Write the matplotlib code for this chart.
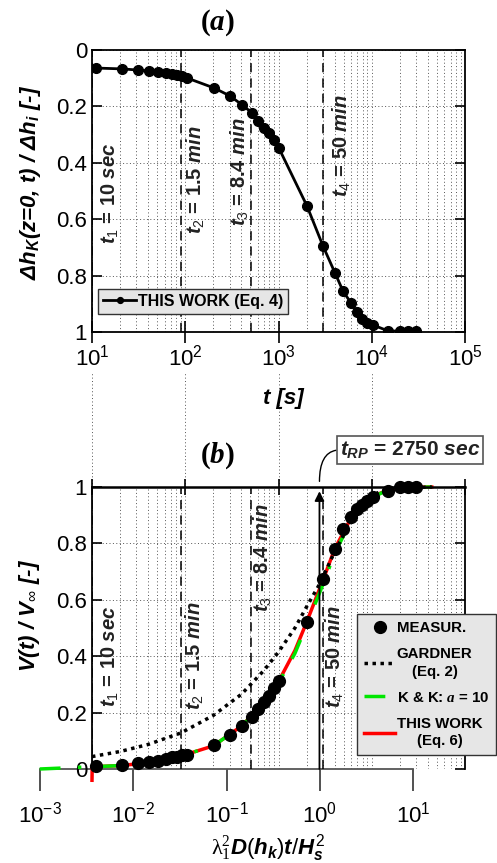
import matplotlib
matplotlib.use("Agg")
import matplotlib.pyplot as plt
from matplotlib.ticker import FuncFormatter, NullLocator, LogLocator

plt.rcParams["font.family"] = ["Liberation Sans", "DejaVu Sans"]
plt.rcParams["font.size"] = 16
plt.rcParams["mathtext.fontset"] = "custom"
plt.rcParams["mathtext.rm"] = "Liberation Sans"
plt.rcParams["mathtext.bf"] = "Liberation Sans:bold"
plt.rcParams["mathtext.it"] = "Liberation Sans:bold:italic"
plt.rcParams["mathtext.sf"] = "Liberation Serif:bold:italic"
plt.rcParams["mathtext.tt"] = "Liberation Serif"

# ---- data ----
t_rp = 2750.0
t_marks = [10, 90, 504, 3000]   # t1..t4 in s
t_meas = [11, 21, 31, 41, 51, 62, 72, 81, 92, 104, 205, 302, 409, 520, 603, 699,
          791, 895, 1010, 2020, 3000, 4040, 4920, 5990, 6950, 7860, 8890, 10300,
          14900, 20100, 24500, 29900]
dh_a = [0.064, 0.067, 0.071, 0.074, 0.078, 0.082, 0.085, 0.089, 0.092, 0.099,
        0.135, 0.163, 0.195, 0.223, 0.252, 0.277, 0.296, 0.319, 0.348, 0.553,
        0.695, 0.791, 0.855, 0.897, 0.929, 0.954, 0.968, 0.975, 0.996, 0.997,
        0.998, 0.998]
v_meas = [0.010, 0.013, 0.020, 0.024, 0.030, 0.036, 0.041, 0.044, 0.048, 0.051,
          0.084, 0.122, 0.154, 0.183, 0.211, 0.236, 0.260, 0.287, 0.313, 0.523,
          0.673, 0.780, 0.850, 0.893, 0.922, 0.936, 0.951, 0.966, 0.987, 0.999,
          1.0, 1.0]

t_gard = [10, 20, 40, 90, 200, 400, 700, 1000, 1500, 2000, 2750, 4000, 6000,
          10000, 15000, 44000]
v_gard = [0.044, 0.062, 0.087, 0.128, 0.19, 0.265, 0.35, 0.415, 0.50, 0.575,
          0.655, 0.77, 0.88, 0.97, 0.995, 1.0]
t_kk = [2.75, 10, 20, 40, 90, 200, 400, 700, 1000, 1500, 2000, 3000, 4000,
        6000, 10000, 15000, 20000, 44000]
v_kk = [0.0, 0.008, 0.012, 0.022, 0.046, 0.082, 0.152, 0.232, 0.305, 0.41,
        0.51, 0.655, 0.765, 0.88, 0.962, 0.99, 0.998, 1.0]
t_tw = [10, 10.05, 20, 40, 90, 200, 400, 700, 1000, 1500, 2000, 3000, 4000,
        6000, 10000, 15000, 20000, 44000]
v_tw = [-0.04, 0.008, 0.012, 0.022, 0.046, 0.082, 0.152, 0.235, 0.31, 0.42,
        0.52, 0.67, 0.78, 0.89, 0.965, 0.99, 0.998, 1.0]

W, H = 497, 863
def px(l, t, r, b):
    return [l / W, 1 - b / H, (r - l) / W, (b - t) / H]

fig = plt.figure(figsize=(W / 100, H / 100), dpi=100)
grid_kw = dict(color="#555555", linestyle=(0, (1, 2.5)), linewidth=0.7)
yfmt = FuncFormatter(lambda v, p: "%g" % v)

# ---------------- panel (a) ----------------
ax_a = fig.add_axes(px(92, 50, 465, 332))
ax_a.plot(t_meas, dh_a, "-o", color="k", lw=2, ms=7, label="THIS WORK (Eq. 4)")
ax_a.set_xscale("log")
ax_a.set_xlim(10, 1e5)
ax_a.set_ylim(1, 0)
ax_a.set_yticks([0, 0.2, 0.4, 0.6, 0.8, 1])
ax_a.yaxis.set_major_formatter(yfmt)
ax_a.grid(True, which="both", axis="x", **grid_kw)
ax_a.grid(True, which="major", axis="y", **grid_kw)
ax_a.tick_params(which="minor", length=0)
ax_a.tick_params(axis="x", which="major", direction="inout", length=16, width=1.2, pad=1)
ax_a.tick_params(axis="y", direction="in", length=7, width=1.2, right=True)
for s in ax_a.spines.values():
    s.set_linewidth(1.3)
for t in t_marks:
    ax_a.axvline(t, color="k", ls=(0, (6, 4)), lw=1.1)
lab_a = [(15.6, 0.51, r"$\mathit{t_1}$ = 10 $\mathit{sec}$"),
         (130, 0.46, r"$\mathit{t_2}$ = 1.5 $\mathit{min}$"),
         (386, 0.43, r"$\mathit{t_3}$ = 8.4 $\mathit{min}$"),
         (4790, 0.34, r"$\mathit{t_4}$ = 50 $\mathit{min}$")]
for x, y, s in lab_a:
    ax_a.text(x, y, s, rotation=90, ha="center", va="center", fontsize=14.5,
              fontweight="bold", color="#222222")
leg_a = ax_a.legend(loc="upper left", bbox_to_anchor=(98 / W, 1 - 289 / H),
                    bbox_transform=fig.transFigure, prop=dict(weight="bold", size=11.5),
                    fancybox=False, framealpha=1, facecolor="#e6e6e6", edgecolor="#333333",
                    handlelength=2.1, handletextpad=0.1, borderpad=0.3, borderaxespad=0,
                    markerscale=0.6)
fig.text(217 / W, 1 - 23 / H, r"($\mathsf{a}$)", family="Liberation Serif",
         fontweight="bold", fontsize=21, ha="center", va="center")
fig.text(31 / W, 1 - 182 / H,
         r"Δ$\mathit{h_K}$(z=0, t) / Δ$\mathit{h_i}$ [-]",
         rotation=90, ha="center", va="center", fontsize=16,
         fontweight="bold", fontstyle="italic")
fig.text(283 / W, 1 - 398 / H, "t [s]", fontweight="bold", fontstyle="italic",
         fontsize=16, ha="center", va="center")

# ---------------- panel (b) ----------------
ax_ext = fig.add_axes(px(92, 372, 465, 487), zorder=0)
ax_ext.set_xscale("log")
ax_ext.set_xlim(10, 1e5)
ax_ext.grid(True, which="major", axis="x", **grid_kw)
ax_ext.tick_params(which="both", length=0, labelbottom=False, labelleft=False)
ax_ext.xaxis.set_minor_locator(NullLocator())
ax_ext.set_yticks([])
ax_ext.patch.set_visible(False)
for s in ax_ext.spines.values():
    s.set_visible(False)

ax_b = fig.add_axes(px(92, 487, 465, 769), zorder=2)
ax_b.patch.set_visible(False)
l_tw, = ax_b.plot(t_tw, v_tw, "-", color="#ff0000", lw=2.5, clip_on=False,
                  label="THIS WORK\n(Eq. 6)")
l_kk, = ax_b.plot(t_kk, v_kk, color="#00e600", lw=2.5, ls=(0, (6, 5, 1, 5)),
                  clip_on=False, label=r"K & K: $\mathsf{a}$ = 10")
l_gd, = ax_b.plot(t_gard, v_gard, color="k", lw=2.5, ls=(0, (1, 1.3)),
                  clip_on=False, label="GARDNER\n(Eq. 2)")
l_ms, = ax_b.plot(t_meas, v_meas, "o", color="k", ms=8.5, zorder=5, clip_on=False,
                  label="MEASUR.")
ax_b.set_xscale("log")
ax_b.set_xlim(10, 1e5)
ax_b.set_ylim(0, 1)
ax_b.set_yticks([0, 0.2, 0.4, 0.6, 0.8, 1])
ax_b.yaxis.set_major_formatter(yfmt)
ax_b.grid(True, which="both", axis="x", **grid_kw)
ax_b.grid(True, which="major", axis="y", **grid_kw)
ax_b.tick_params(which="minor", length=0)
ax_b.tick_params(axis="x", which="major", top=True, bottom=False, labelbottom=False,
                 direction="inout", length=12, width=1.2)
ax_b.tick_params(axis="y", direction="in", length=7, width=1.2, right=True)
ax_b.spines["bottom"].set_visible(False)
for s in ax_b.spines.values():
    s.set_linewidth(1.3)
ax_b.spines["top"].set_linewidth(1.8)
for t in t_marks:
    ax_b.axvline(t, color="k", ls=(0, (6, 4)), lw=1.1)
lab_b = [(15.6, 0.40, r"$\mathit{t_1}$ = 10 $\mathit{sec}$"),
         (127, 0.40, r"$\mathit{t_2}$ = 1.5 $\mathit{min}$"),
         (682, 0.75, r"$\mathit{t_3}$ = 8.4 $\mathit{min}$"),
         (4035, 0.40, r"$\mathit{t_4}$ = 50 $\mathit{min}$")]
for x, y, s in lab_b:
    ax_b.text(x, y, s, rotation=90, ha="center", va="center", fontsize=14.5,
              fontweight="bold", color="#222222")
ax_b.annotate("", xy=(t_rp, 0.985), xytext=(t_rp, 0),
              arrowprops=dict(arrowstyle="-|>", color="k", lw=1.3, mutation_scale=14,
                              shrinkA=0, shrinkB=0))
ax_b.annotate(r"$\mathit{t_{RP}}$ = 2750 $\mathit{sec}$", xy=(t_rp, 1.02),
              xytext=(410 / W, 1 - 450 / H), textcoords="figure fraction",
              ha="center", va="center", fontsize=15, fontweight="bold", color="#222222",
              bbox=dict(boxstyle="square,pad=0.15", fc="white", ec="#555555", lw=1.2),
              arrowprops=dict(arrowstyle="-", color="k", lw=1,
                              connectionstyle="angle3,angleA=180,angleB=90",
                              relpos=(0, 0.5), shrinkA=0, shrinkB=0),
              annotation_clip=False)
leg_b = fig.legend([l_ms, l_gd, l_kk, l_tw], [l.get_label() for l in [l_ms, l_gd, l_kk, l_tw]],
                   loc="upper left", bbox_to_anchor=(357 / W, 1 - 614 / H),
                   prop=dict(weight="bold", size=10.8), fancybox=False, framealpha=1,
                   facecolor="#e6e6e6", edgecolor="#333333", handlelength=2.1,
                   handletextpad=0.1, borderpad=0.45, borderaxespad=0, labelspacing=0.8)
for txt in leg_b.get_texts():
    txt.set_multialignment("center")
    txt.set_linespacing(1.35)

ax_low = fig.add_axes(px(40, 769, 413, 769.2), zorder=1)
ax_low.set_xscale("log")
ax_low.set_xlim(1e-3, 1e1)
ax_low.xaxis.set_major_locator(LogLocator(base=10, numticks=10))
ax_low.xaxis.set_minor_locator(NullLocator())
ax_low.set_yticks([])
ax_low.patch.set_visible(False)
for k in ["top", "left", "right"]:
    ax_low.spines[k].set_visible(False)
ax_low.spines["bottom"].set_color("#555555")
ax_low.spines["bottom"].set_linewidth(1.3)
ax_low.tick_params(axis="x", direction="out", length=16, width=1.2, color="#333333", pad=7)

fig.text(217 / W, 1 - 456 / H, r"($\mathsf{b}$)", family="Liberation Serif",
         fontweight="bold", fontsize=21, ha="center", va="center")
fig.text(30 / W, 1 - 615 / H,
         r"V(t) / V$_{\mathrm{\infty}}$ [-]",
         rotation=90, ha="center", va="center", fontsize=16,
         fontweight="bold", fontstyle="italic")
fig.text(268 / W, 1 - 854 / H, r"$\mathtt{\lambda_1^2}\mathit{D(h_k)t/H_s^2}$",
         ha="center", va="baseline", fontsize=16)

fig.savefig("out.png", dpi=100)
